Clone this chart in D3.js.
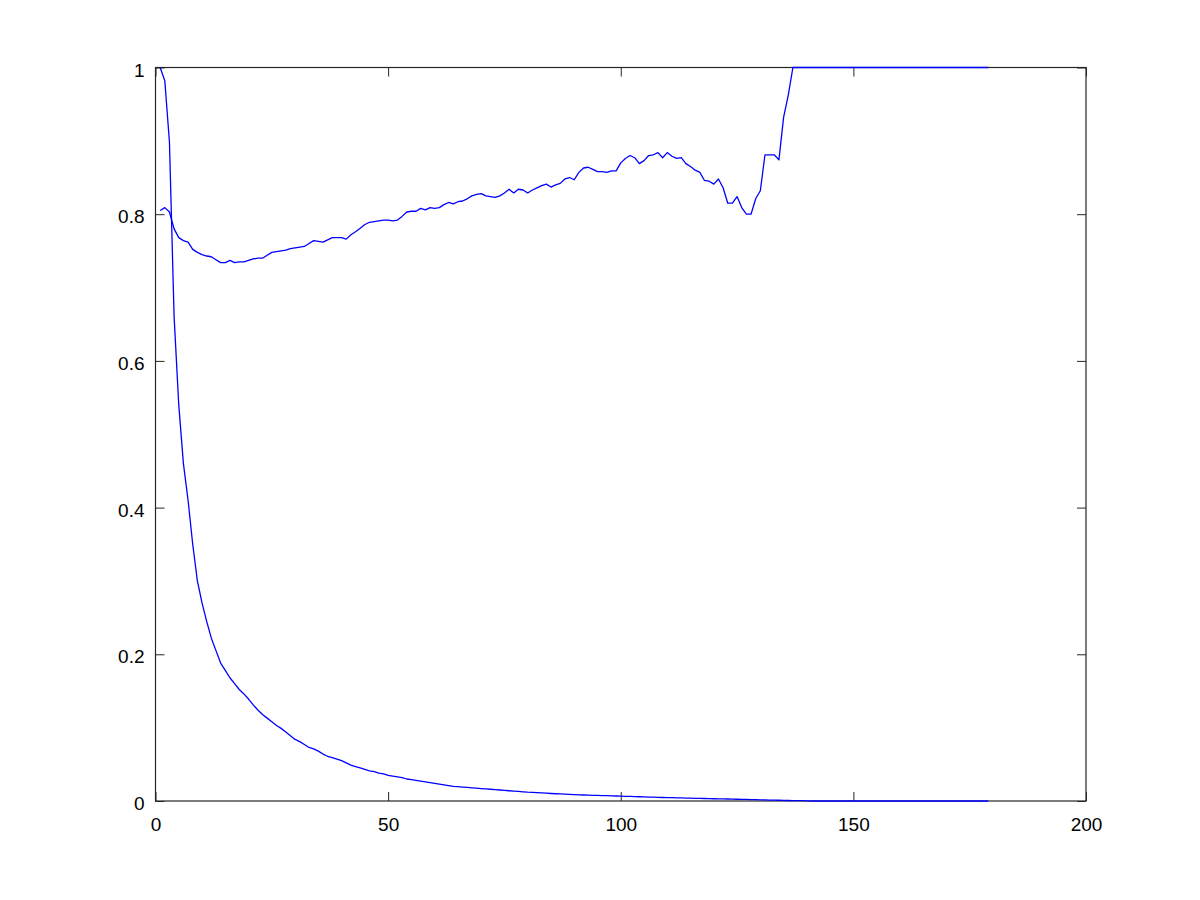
<!DOCTYPE html>
<html>
<head>
<meta charset="utf-8">
<script src="https://cdn.jsdelivr.net/npm/d3@7"></script>
<style>
  html, body { margin: 0; padding: 0; background: #fff; }
  svg { display: block; }
  text { font-family: "Liberation Sans", Arial, Helvetica, sans-serif; }
</style>
</head>
<body>
<svg id="chart" width="1200" height="900"></svg>
<script>
// ---- data (index runs 1..N) ----
const upperSeries = [
  0.805,0.809,0.803,0.780,0.768,0.764,0.762,0.752,0.748,0.745,
  0.743,0.742,0.738,0.734,0.734,0.737,0.734,0.735,0.735,0.737,
  0.739,0.740,0.740,0.744,0.748,0.749,0.750,0.751,0.753,0.754,
  0.755,0.756,0.760,0.764,0.763,0.762,0.765,0.768,0.768,0.768,
  0.766,0.772,0.776,0.781,0.786,0.789,0.790,0.791,0.792,0.792,
  0.791,0.792,0.797,0.803,0.804,0.804,0.808,0.806,0.809,0.808,
  0.809,0.813,0.816,0.814,0.817,0.818,0.821,0.825,0.827,0.828,
  0.825,0.824,0.823,0.825,0.829,0.834,0.829,0.834,0.833,0.829,
  0.833,0.836,0.839,0.841,0.837,0.840,0.842,0.848,0.850,0.847,
  0.857,0.863,0.864,0.861,0.858,0.858,0.857,0.859,0.859,0.870,
  0.876,0.880,0.877,0.869,0.873,0.880,0.881,0.884,0.877,0.884,
  0.879,0.876,0.877,0.869,0.865,0.860,0.857,0.846,0.845,0.841,
  0.848,0.836,0.815,0.815,0.824,0.809,0.800,0.800,0.821,0.832,
  0.881,0.881,0.881,0.874,0.932,0.962,1.000,1.000,1.000,1.000,
  1.000,1.000,1.000,1.000,1.000,1.000,1.000,1.000,1.000,1.000,
  1.000,1.000,1.000,1.000,1.000,1.000,1.000,1.000,1.000,1.000,
  1.000,1.000,1.000,1.000,1.000,1.000,1.000,1.000,1.000,1.000,
  1.000,1.000,1.000,1.000,1.000,1.000,1.000,1.000,1.000
];
const lowerSeries = [
  1.000,0.982,0.898,0.660,0.540,0.460,0.410,0.350,0.300,0.270,
  0.245,0.222,0.205,0.188,0.178,0.168,0.160,0.152,0.146,0.139,
  0.131,0.124,0.118,0.113,0.108,0.103,0.099,0.094,0.089,0.084,
  0.081,0.077,0.073,0.071,0.068,0.064,0.061,0.059,0.057,0.055,
  0.052,0.049,0.047,0.045,0.043,0.041,0.040,0.038,0.037,0.035,
  0.034,0.033,0.032,0.030,0.029,0.028,0.027,0.026,0.025,0.024,
  0.023,0.022,0.021,0.020,0.0195,0.019,0.0185,0.018,0.0175,0.017,
  0.0165,0.016,0.0155,0.015,0.0145,0.014,0.0135,0.013,0.0125,0.012,
  0.0117,0.0113,0.011,0.0106,0.0102,0.0099,0.0096,0.0093,0.009,0.0087,
  0.0084,0.0082,0.0080,0.0078,0.0076,0.0074,0.0072,0.0070,0.0068,0.0066,
  0.0064,0.0062,0.0060,0.0058,0.0056,0.0054,0.0052,0.0050,0.0048,0.0047,
  0.0045,0.0043,0.0042,0.0040,0.0039,0.0037,0.0036,0.0034,0.0033,0.0031,
  0.0030,0.0028,0.0027,0.0025,0.0024,0.0022,0.0021,0.0019,0.0018,0.0016,
  0.0015,0.0013,0.0012,0.0010,0.0009,0.0007,0.0006,0.0005,0.0004,0.0003,
  0,0,0,0,0,0,0,0,0,0,
  0,0,0,0,0,0,0,0,0,0,
  0,0,0,0,0,0,0,0,0,0,
  0,0,0,0,0,0,0,0,0
];
const xTicks = [0, 50, 100, 150, 200];
const yTicks = [0, 0.2, 0.4, 0.6, 0.8, 1];
const xDomain = [0, 200];
const yDomain = [0, 1];

// ---- layout ----
const plotLeft = 155.5, plotRight = 1086, plotTop = 67.5, plotBottom = 801;
const svg = d3.select("#chart");
const x = d3.scaleLinear().domain(xDomain).range([plotLeft, plotRight]);
const y = d3.scaleLinear().domain(yDomain).range([plotBottom, plotTop]);
const tickLen = 9;
const axisColor = "#262626";
const fontSize = 19;

function styleAxis(g) {
  g.select(".domain").remove();
  g.selectAll(".tick line").attr("stroke", axisColor).attr("stroke-width", 1);
  g.selectAll(".tick text").attr("font-size", fontSize).attr("fill", "#000")
    .attr("font-family", "'Liberation Sans', Arial, sans-serif");
}

// frame
svg.append("rect")
  .attr("x", plotLeft).attr("y", plotTop)
  .attr("width", plotRight - plotLeft).attr("height", plotBottom - plotTop)
  .attr("fill", "none").attr("stroke", axisColor).attr("stroke-width", 1.2);

// bottom axis (labels, inward ticks)
svg.append("g").attr("transform", `translate(0,${plotBottom})`)
  .call(d3.axisBottom(x).tickValues(xTicks).tickFormat(d3.format("d"))
        .tickSizeInner(-tickLen).tickSizeOuter(0).tickPadding(17))
  .call(styleAxis);
// top axis ticks (no labels)
svg.append("g").attr("transform", `translate(0,${plotTop})`)
  .call(d3.axisTop(x).tickValues(xTicks).tickFormat("")
        .tickSizeInner(-tickLen).tickSizeOuter(0))
  .call(styleAxis);
// left axis
svg.append("g").attr("transform", `translate(${plotLeft},0)`)
  .call(d3.axisLeft(y).tickValues(yTicks).tickFormat(d => d3.format("~g")(d))
        .tickSizeInner(-tickLen).tickSizeOuter(0).tickPadding(11))
  .call(styleAxis)
  .call(g => g.selectAll(".tick text").attr("dy", "0.45em"));
// right axis ticks
svg.append("g").attr("transform", `translate(${plotRight},0)`)
  .call(d3.axisRight(y).tickValues(yTicks).tickFormat("")
        .tickSizeInner(-tickLen).tickSizeOuter(0))
  .call(styleAxis);

// lines
const line = d3.line().x((d, i) => x(i + 1)).y(d => y(d));
[upperSeries, lowerSeries].forEach(s => {
  svg.append("path").datum(s)
    .attr("d", line)
    .attr("fill", "none")
    .attr("stroke", "#0000ff")
    .attr("stroke-width", 1.3)
    .attr("stroke-linejoin", "round");
});
</script>
</body>
</html>
